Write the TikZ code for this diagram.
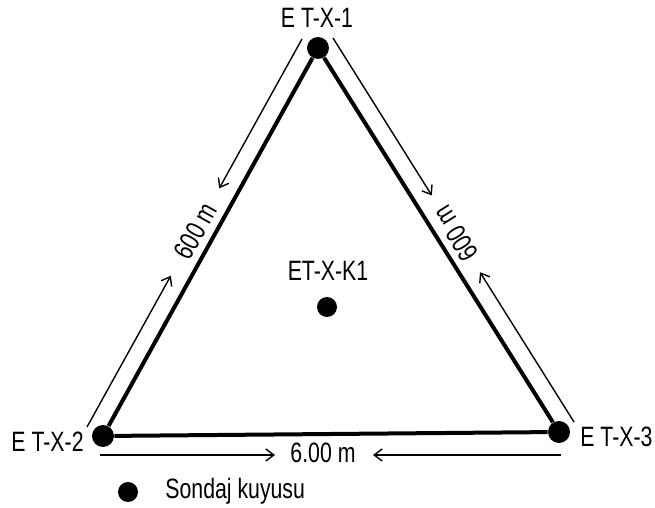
\documentclass[tikz,border=0pt]{standalone}
\usepackage{fontspec}
\setmainfont[FakeStretch=0.76]{Liberation Sans}
\usetikzlibrary{arrows.meta,calc}

\begin{document}
\begin{tikzpicture}[x=0.5pt,y=-0.5pt,>={Straight Barb[length=4pt,width=6pt]},
    well/.style={circle,fill=black,inner sep=0pt,minimum size=11pt},
    side/.style={line width=2pt},
    dim/.style={->,line width=0.7pt},
    lbl/.style={font=\fontsize{14}{16}\selectfont,inner sep=0pt}]
\useasboundingbox (0,0) rectangle (655,508);
%%%%%
\node[well] (v1) at (318,48) {};
\node[well] (v2) at (103,436) {};
\node[well] (v3) at (559,432) {};
\node[well,minimum size=10pt] (k1) at (327,307) {};
%%%%%
\node[lbl] (l1) at (317,18) {E T-X-1};
\node[lbl,anchor=east] (l2) at (84,442) {E T-X-2};
\node[lbl,anchor=west] (l3) at (580,437) {E T-X-3};
\node[lbl] (lk) at (328,271) {ET-X-K1};
%%%%%%%
\draw[side] (v1) -- (v2) -- (v3) -- (v1);
%%%%% dimension lines
\coordinate (a1) at (302,39);
\coordinate (a2) at (87,427);
\coordinate (b1) at (333,38);
\coordinate (b3) at (574,422);
\coordinate (c2) at (100,455);
\coordinate (c3) at (561,455);
\draw[dim] (a2) -- ($(a2)!0.39!(a1)$);
\draw[dim] (a1) -- ($(a2)!0.615!(a1)$);
\node[lbl,rotate=61] (da) at ($(a2)!0.505!(a1)$) {600 m};
\draw[dim] (b1) -- ($(b1)!0.41!(b3)$);
\draw[dim] (b3) -- ($(b1)!0.61!(b3)$);
\node[lbl,rotate=122.1] (db) at ($(b1)!0.51!(b3)$) {600 m};
\draw[dim] (c2) -- (275,455);
\draw[dim] (c3) -- (373,455);
\node[lbl] (dc) at (323,453) {6.00 m};
%%%%% key
\node[well,minimum size=10pt] (key) at (128,492) {};
\node[lbl,anchor=west] (keytext) at (165,491) {Sondaj kuyusu};
\end{tikzpicture}
\end{document}
